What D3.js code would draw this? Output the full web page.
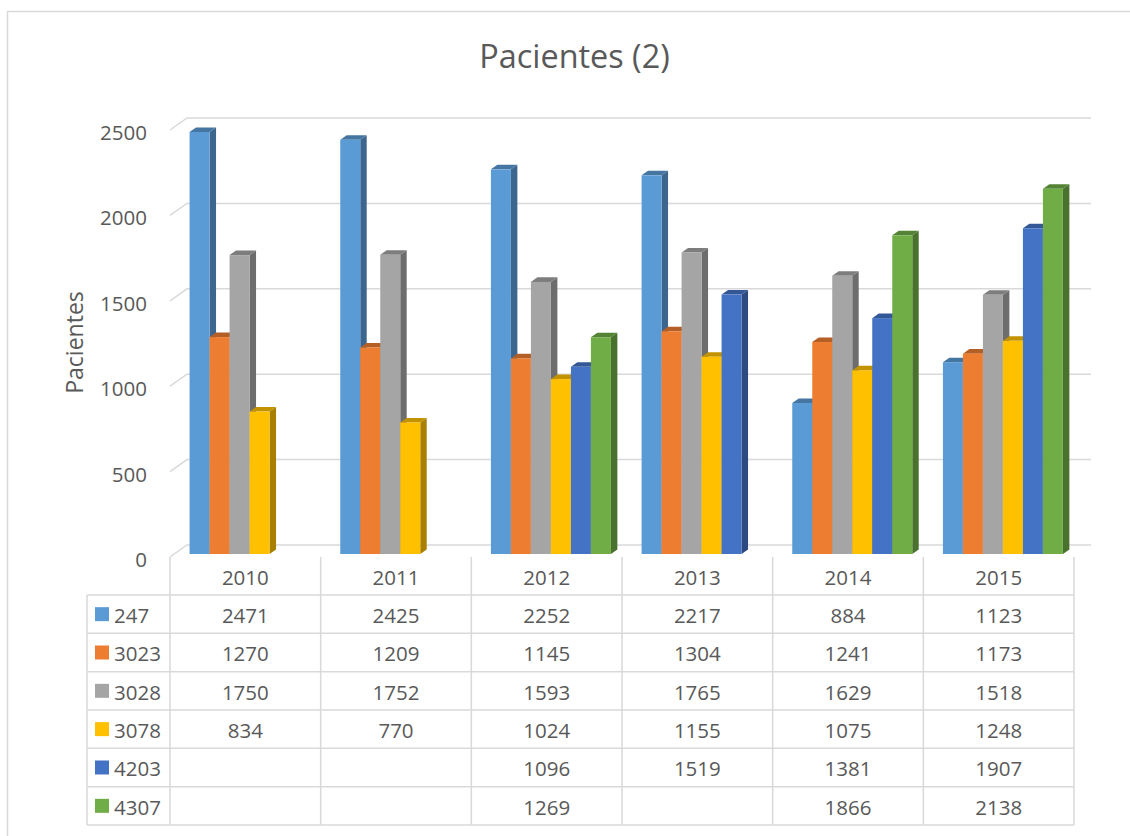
<!DOCTYPE html>
<html>
<head>
<meta charset="utf-8">
<script src="https://cdn.jsdelivr.net/npm/d3@7"></script>
<style>
  html, body { margin: 0; padding: 0; background: #ffffff; }
  svg { display: block; }
  text { font-family: "Open Sans", "Noto Sans", sans-serif; fill: #595959; }
</style>
</head>
<body>
<svg id="chart" width="1130" height="836"></svg>
<script>
// Patients per year for each code
const categories = ["2010", "2011", "2012", "2013", "2014", "2015"];
const seriesNames = ["247", "3023", "3028", "3078", "4203", "4307"];
const s247  = [2471, 2425, 2252, 2217, 884, 1123];
const s3023 = [1270, 1209, 1145, 1304, 1241, 1173];
const s3028 = [1750, 1752, 1593, 1765, 1629, 1518];
const s3078 = [834, 770, 1024, 1155, 1075, 1248];
const s4203 = [null, null, 1096, 1519, 1381, 1907];
const s4307 = [null, null, 1269, null, 1866, 2138];
const seriesColors = ["#5B9BD5", "#ED7D31", "#A5A5A5", "#FFC000", "#4472C4", "#70AD47"];
const yTicks = [0, 500, 1000, 1500, 2000, 2500];
const titleText = "Pacientes (2)";
const yTitle = "Pacientes";

const seriesValues = [s247, s3023, s3028, s3078, s4203, s4307];

const svg = d3.select("#chart");
const grid = "#d9d9d9";

// Layout of the pseudo-3D box
const floorFront = 557;          // y of value 0 on the front edge
const left = 170, right = 1074;  // front edge x extent
const depthX = 17, depthY = 12;  // offset from front edge to back wall
const barD0 = 0.25, barD1 = 0.63; // bar depth span (fraction of box depth)
const plotH = 427;

const x0 = d3.scaleBand().domain(categories).range([left, right]).paddingInner(0).paddingOuter(0);
const groupPad = (x0.bandwidth() - 120) / 2;
const x1 = d3.scaleBand().domain(seriesNames).range([groupPad, x0.bandwidth() - groupPad]).padding(0);
const y = d3.scaleLinear().domain([0, 2500]).range([0, plotH]);

function proj(x, h, d) {
  return [x + depthX * d, floorFront - h - depthY * d];
}

// Outer frame (top and left edges)
svg.append("path")
  .attr("d", "M7.5,836 L7.5,11.5 L1130,11.5")
  .attr("fill", "none").attr("stroke", grid).attr("stroke-width", 1.5);

// Title
svg.append("text")
  .attr("x", 574.5).attr("y", 68)
  .attr("text-anchor", "middle")
  .style("font-size", "32.4px")
  .text(titleText);

// Gridlines: short diagonal on the left side wall, then across the back wall
svg.append("g").selectAll("path")
  .data(yTicks)
  .join("path")
  .attr("d", v => {
    const a = proj(left, y(v), 0), b = proj(left, y(v), 1), c = proj(right, y(v), 1);
    return `M${a[0]},${a[1]} L${b[0]},${b[1]} L${c[0]},${c[1]}`;
  })
  .attr("fill", "none").attr("stroke", grid).attr("stroke-width", 1.5);

// Y tick labels
svg.append("g").selectAll("text")
  .data(yTicks)
  .join("text")
  .attr("x", 147)
  .attr("y", v => floorFront - y(v) + 2)
  .attr("text-anchor", "end")
  .attr("dominant-baseline", "central")
  .style("font-size", "20.5px")
  .text(v => v);

// Y axis title
svg.append("text")
  .attr("transform", "translate(83,342.5) rotate(-90)")
  .attr("text-anchor", "middle")
  .style("font-size", "23px")
  .text(yTitle);

// Bars: front, side and top faces
const bars = [];
categories.forEach((cat, ci) => {
  seriesNames.forEach((s, si) => {
    const v = seriesValues[si][ci];
    if (v == null) return;
    bars.push({ cat, s, si, v });
  });
});

const barG = svg.append("g");
bars.forEach(b => {
  const xl = x0(b.cat) + x1(b.s);
  const xr = xl + x1.bandwidth();
  const h = y(b.v);
  const base = d3.color(seriesColors[b.si]);
  const side = d3.rgb(base.r * 0.66, base.g * 0.66, base.b * 0.66);
  const top = d3.rgb(base.r * 0.76, base.g * 0.76, base.b * 0.76);
  const fbl = proj(xl, 0, barD0), ftl = proj(xl, h, barD0), ftr = proj(xr, h, barD0), fbr = proj(xr, 0, barD0);
  const btl = proj(xl, h, barD1), btr = proj(xr, h, barD1), bbr = proj(xr, 0, barD1);
  const g = barG.append("g");
  g.append("path")
    .attr("d", `M${fbr} L${ftr} L${btr} L${bbr} Z`)
    .attr("fill", side);
  g.append("path")
    .attr("d", `M${ftl} L${btl} L${btr} L${ftr} Z`)
    .attr("fill", top);
  g.append("rect")
    .attr("x", ftl[0]).attr("y", ftl[1])
    .attr("width", xr - xl).attr("height", fbl[1] - ftl[1])
    .attr("fill", base);
});

// Data table
const rowTop = 595, rowH = 38.33, legendLeft = 87;
const rowY = i => rowTop + i * rowH;
const tableBottom = rowY(seriesNames.length);
const tg = svg.append("g");

// vertical lines between category columns
tg.selectAll("line.v")
  .data(d3.range(categories.length + 1))
  .join("line")
  .attr("x1", i => left + i * x0.step()).attr("x2", i => left + i * x0.step())
  .attr("y1", floorFront).attr("y2", tableBottom)
  .attr("stroke", grid).attr("stroke-width", 1.5);
tg.append("line")
  .attr("x1", legendLeft).attr("x2", legendLeft)
  .attr("y1", rowTop).attr("y2", tableBottom)
  .attr("stroke", grid).attr("stroke-width", 1.5);
// horizontal row lines
tg.selectAll("line.h")
  .data(d3.range(seriesNames.length + 1))
  .join("line")
  .attr("x1", legendLeft).attr("x2", right)
  .attr("y1", i => rowY(i)).attr("y2", i => rowY(i))
  .attr("stroke", grid).attr("stroke-width", 1.5);

// category labels
tg.selectAll("text.cat")
  .data(categories)
  .join("text")
  .attr("x", c => x0(c) + x0.bandwidth() / 2)
  .attr("y", (floorFront + rowTop) / 2 + 1)
  .attr("text-anchor", "middle")
  .attr("dominant-baseline", "central")
  .style("font-size", "20.5px")
  .text(c => c);

// legend keys and names
seriesNames.forEach((s, si) => {
  const cy = rowY(si) + rowH / 2;
  tg.append("rect")
    .attr("x", 95).attr("y", cy - 7)
    .attr("width", 14).attr("height", 14)
    .attr("fill", seriesColors[si]);
  tg.append("text")
    .attr("x", 114).attr("y", cy + 1)
    .attr("dominant-baseline", "central")
    .style("font-size", "20.5px")
    .text(s);
  categories.forEach((c, ci) => {
    const v = seriesValues[si][ci];
    if (v == null) return;
    tg.append("text")
      .attr("x", x0(c) + x0.bandwidth() / 2)
      .attr("y", cy + 1)
      .attr("text-anchor", "middle")
      .attr("dominant-baseline", "central")
      .style("font-size", "20.5px")
      .text(v);
  });
});
</script>
</body>
</html>
